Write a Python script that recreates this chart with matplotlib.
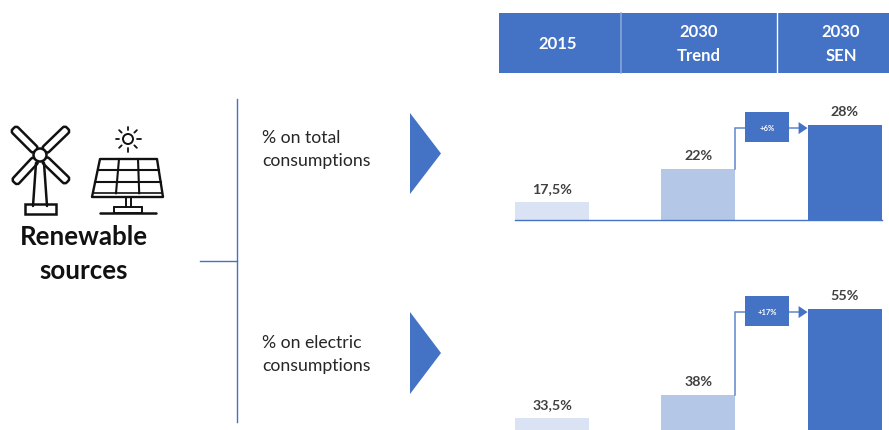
import numpy as np
import matplotlib
matplotlib.use("Agg")
import matplotlib.pyplot as plt
from matplotlib.patches import Rectangle, Polygon, Circle, FancyBboxPatch
from matplotlib.transforms import Affine2D

plt.rcParams['font.family'] = ['Lato', 'DejaVu Sans']

W, H = 889, 430
BLUE = '#4472C4'
MID = '#B4C7E7'
PALE = '#DAE3F3'
DARK = '#404040'

columns = ['2015', '2030\nTrend', '2030\nSEN']
total_values = [17.5, 22, 28]
total_labels = ['17,5%', '22%', '28%']
total_delta = '+6%'
electric_values = [33.5, 38, 55]
electric_labels = ['33,5%', '38%', '55%']
electric_delta = '+17%'
row_titles = ['% on total\nconsumptions', '% on electric\nconsumptions']
bar_colors = [PALE, MID, BLUE]

fig = plt.figure(figsize=(W / 100, H / 100), dpi=100, facecolor='white')

# full-figure layer addressed in pixels for the diagram furniture
ov = fig.add_axes([0, 0, 1, 1], zorder=0)
ov.set_xlim(0, W)
ov.set_ylim(H, 0)
ov.axis('off')

# column header band
ov.add_patch(Rectangle((499, 13), W - 499, 60, fc=BLUE, ec='none'))
ov.plot([620.8, 620.8], [13, 73], color='#8FAADC', lw=1.1)
ov.plot([776.5, 776.5], [13, 73], color='white', lw=1.0)
for cx, label in zip([558, 699, 841], columns):
    ov.text(cx, 44, label, color='white', fontsize=12, fontweight='bold',
            ha='center', va='center', linespacing=1.56)

# bracket joining the two rows
ov.plot([237, 237], [99, 422], color=BLUE, lw=1.0)
ov.plot([200, 237], [261, 261], color=BLUE, lw=1.0)

# row titles and their pointers
for ty, (tri_top, tri_bot), title in zip([149.5, 354.5], [(113, 194), (312, 394)], row_titles):
    ov.text(262, ty, title, fontsize=12.7, color='#262626', ha='left', va='center',
            linespacing=1.5)
    ov.add_patch(Polygon([(410, tri_top), (441, (tri_top + tri_bot) / 2), (410, tri_bot)],
                         fc=BLUE, ec='none'))

ov.text(84, 237, 'Renewable', fontsize=18.6, fontweight='bold', color='#111111',
        ha='center', va='center')
ov.text(84, 271, 'sources', fontsize=18.6, fontweight='bold', color='#111111',
        ha='center', va='center')

# wind turbine icon
INK = '#111111'
hub = (40, 155)
for tip in [(12, 127), (69, 127), (13, 184), (69, 183)]:
    ang = np.degrees(np.arctan2(tip[1] - hub[1], tip[0] - hub[0]))
    length = np.hypot(tip[0] - hub[0], tip[1] - hub[1])
    blade = FancyBboxPatch((6, -4), length - 8, 8, boxstyle='round,pad=0,rounding_size=3',
                           fc='white', ec=INK, lw=1.8,
                           transform=Affine2D().rotate_deg(ang).translate(*hub) + ov.transData)
    ov.add_patch(blade)
ov.plot([36, 33], [163, 206], color=INK, lw=1.8, solid_capstyle='round')
ov.plot([44, 47], [163, 206], color=INK, lw=1.8, solid_capstyle='round')
ov.add_patch(Rectangle((25, 204), 31, 10, fc='white', ec=INK, lw=1.8))
ov.add_patch(Circle(hub, 6.5, fc='white', ec=INK, lw=1.8, zorder=3))

# solar panel icon
sun = (128, 139)
ov.add_patch(Circle(sun, 5, fc='white', ec=INK, lw=1.4))
for a in np.arange(0, 360, 45):
    d = np.array([np.cos(np.radians(a)), np.sin(np.radians(a))])
    ov.plot(*zip(sun + 9 * d, sun + 12.5 * d), color=INK, lw=1.3, solid_capstyle='round')
tl, tr, br, bl = np.array([100, 159.]), np.array([157, 159.]), np.array([163, 197.]), np.array([92, 197.])
ov.add_patch(Polygon([tl, tr, br, bl], fc='white', ec=INK, lw=1.7, joinstyle='round'))
ov.plot([93.5, 161.5], [193, 193], color=INK, lw=1.2)
grid_bottom = 0.9
for f in [1 / 3, 2 / 3]:
    top = tl + (tr - tl) * f
    bottom = bl + (br - bl) * f
    ov.plot(*zip(top, top + (bottom - top) * grid_bottom), color=INK, lw=1.5)
    left = tl + (bl - tl) * f * grid_bottom
    right = tr + (br - tr) * f * grid_bottom
    ov.plot(*zip(left, right), color=INK, lw=1.5)
ov.plot([126, 126], [197, 207], color=INK, lw=1.4)
ov.plot([131, 131], [197, 207], color=INK, lw=1.4)
ov.add_patch(Rectangle((114, 207), 28, 6, fc='white', ec=INK, lw=1.4))
ov.plot([100, 156], [213, 213], color=INK, lw=1.8, solid_capstyle='round')

# bar panels: each value axis starts at its own cut-off value
X_LEFT, X_RIGHT = 500, W
X0, STEP, BAR_W = 552, 146.3, 74


def bar_panel(values, labels, delta, base_px, top_px, floor, px_per_unit, baseline):
    ax = fig.add_axes([X_LEFT / W, 1 - base_px / H, (X_RIGHT - X_LEFT) / W, (base_px - top_px) / H],
                      zorder=1)
    ax.patch.set_alpha(0)
    ax.set_xlim((X_LEFT - X0) / STEP, (X_RIGHT - X0) / STEP)
    ax.set_ylim(floor, floor + (base_px - top_px) / px_per_unit)
    ax.axis('off')
    w = BAR_W / STEP
    x = np.arange(len(values))
    ax.bar(x, np.array(values) - floor, bottom=floor, width=w, color=bar_colors, linewidth=0)
    if baseline:
        ax.plot([-w / 2, 2 + w / 2], [floor, floor], color=BLUE, lw=1.0, clip_on=False)
    for xi, v, lab in zip(x, values, labels):
        ax.annotate(lab, (xi, v), xytext=(0, 9.4), textcoords='offset points', ha='center',
                    va='center', fontsize=10.3, fontweight='bold', color=DARK,
                    annotation_clip=False)

    # connector from the middle bar to the last one, through the delta box
    link_y = values[2] - 3 / px_per_unit
    elbow = 1 + w / 2
    ax.plot([elbow, elbow, 2 - w / 2 - 8 / STEP], [values[1], link_y, link_y],
            color=BLUE, lw=1.1, alpha=0.85, solid_joinstyle='miter')
    ax.add_patch(Polygon([(2 - w / 2 - 9 / STEP, link_y + 6 / px_per_unit),
                          (2 - w / 2, link_y),
                          (2 - w / 2 - 9 / STEP, link_y - 6 / px_per_unit)],
                         fc=BLUE, ec='none'))
    box_x = elbow + 10 / STEP
    box_w = 44 / STEP
    box_h = 30 / px_per_unit
    ax.add_patch(Rectangle((box_x, link_y - box_h / 2 + 1 / px_per_unit), box_w, box_h,
                           fc=BLUE, ec='none', zorder=3))
    ax.text(box_x + box_w / 2, link_y, delta, color='white', fontsize=5.5, fontweight='bold',
            ha='center', va='center', zorder=4)
    return ax


bar_panel(total_values, total_labels, total_delta, 220, 95, 15.05, 7.33, True)
bar_panel(electric_values, electric_labels, electric_delta, 430, 285, 31.1, 5.06, False)

fig.savefig('out.png', dpi=100)
